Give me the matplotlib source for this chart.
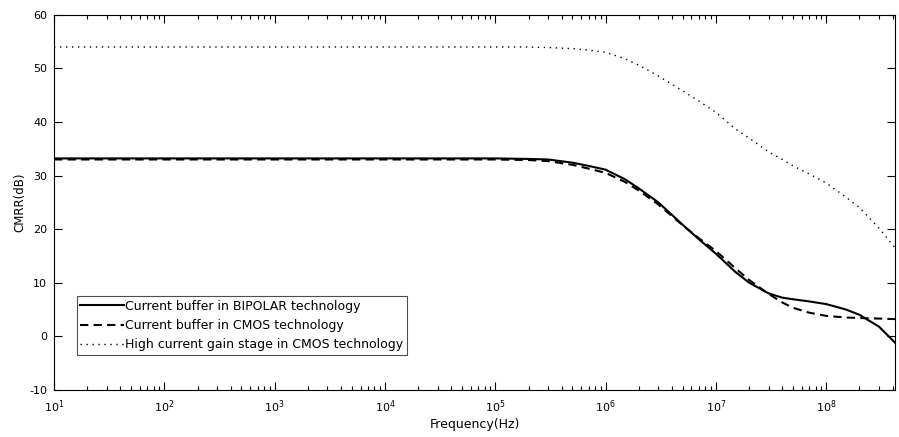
import matplotlib
matplotlib.use("Agg")
import matplotlib.pyplot as plt
from matplotlib.ticker import FixedLocator, LogLocator

plt.rcParams["font.family"] = ["DejaVu Sans"]
plt.rcParams["mathtext.default"] = "regular"
plt.rcParams["axes.unicode_minus"] = False

# frequency points (Hz)
freq = [1e1, 1e2, 1e3, 1e4, 1e5, 2e5, 3e5, 5e5, 7e5, 1e6, 1.5e6, 2e6, 3e6,
        5e6, 7e6, 1e7, 1.5e7, 2e7, 3e7, 4e7, 5e7, 7e7, 1e8, 1.5e8, 2e8,
        3e8, 4.2e8]

# CMRR (dB) for each design
cmrr_bipolar = [33.2, 33.2, 33.2, 33.2, 33.2, 33.1, 33.0, 32.4, 31.8, 31.1,
                29.3, 27.6, 25.0, 20.8, 18.1, 15.4, 12.0, 10.0, 8.0, 7.2,
                6.9, 6.5, 6.0, 5.0, 4.0, 1.8, -1.2]
cmrr_cmos = [33.0, 33.0, 33.0, 33.0, 33.0, 32.9, 32.7, 32.0, 31.3, 30.5,
             28.8, 27.2, 24.6, 20.7, 18.3, 15.9, 12.7, 10.5, 7.9, 6.3,
             5.3, 4.4, 3.8, 3.5, 3.4, 3.3, 3.2]
cmrr_high_gain = [54.0, 54.0, 54.0, 54.0, 54.0, 54.0, 53.9, 53.7, 53.4, 53.0,
                  51.8, 50.6, 48.6, 45.8, 43.9, 41.8, 38.7, 37.0, 34.4, 33.0,
                  31.8, 30.3, 28.6, 26.0, 24.0, 20.2, 16.5]

labels = ["Current buffer in BIPOLAR technology",
          "Current buffer in CMOS technology",
          "High current gain stage in CMOS technology"]

decades = [1e1, 1e2, 1e3, 1e4, 1e5, 1e6, 1e7, 1e8]
decade_labels = ["$10^{%d}$" % e for e in range(1, 9)]
yticks = list(range(-10, 61, 10))

fig = plt.figure(figsize=(8.99, 4.37), dpi=100)
ax = fig.add_axes([0.0601, 0.108, 0.9355, 0.858])

ax.plot(freq, cmrr_bipolar, color="black", lw=1.5, label=labels[0])
ax.plot(freq, cmrr_cmos, color="black", lw=1.5, ls=(0, (4, 2.5)), label=labels[1])
ax.plot(freq, cmrr_high_gain, color="black", lw=1.0, ls=(0, (1, 3.3)), label=labels[2])

ax.set_xscale("log")
ax.set_xlim(10, 4.2e8)
ax.set_ylim(-10, 60)
ax.xaxis.set_major_locator(FixedLocator(decades))
ax.set_xticklabels(decade_labels)
ax.xaxis.set_minor_locator(LogLocator(base=10, subs=range(2, 10), numticks=100))
ax.yaxis.set_major_locator(FixedLocator(yticks))

ax.tick_params(which="both", direction="in", top=True, right=True,
               labelsize=8, width=0.8)
ax.tick_params(axis="x", which="major", length=6, pad=6)
ax.tick_params(axis="y", which="major", length=6, pad=5)
ax.tick_params(which="minor", length=3)
for s in ax.spines.values():
    s.set_linewidth(0.8)

ax.set_xlabel("Frequency(Hz)", fontsize=9, labelpad=2)
ax.set_ylabel("CMRR(dB)", fontsize=8.5, labelpad=2)

leg = ax.legend(loc="lower left", bbox_to_anchor=(0.027, 0.093), fontsize=9,
                handlelength=3.45, handletextpad=0.15, borderpad=0.3,
                labelspacing=0.5, borderaxespad=0, fancybox=False,
                edgecolor="0.3", framealpha=1)
leg.get_frame().set_linewidth(0.8)

fig.savefig("out.png", dpi=100, facecolor="white")
